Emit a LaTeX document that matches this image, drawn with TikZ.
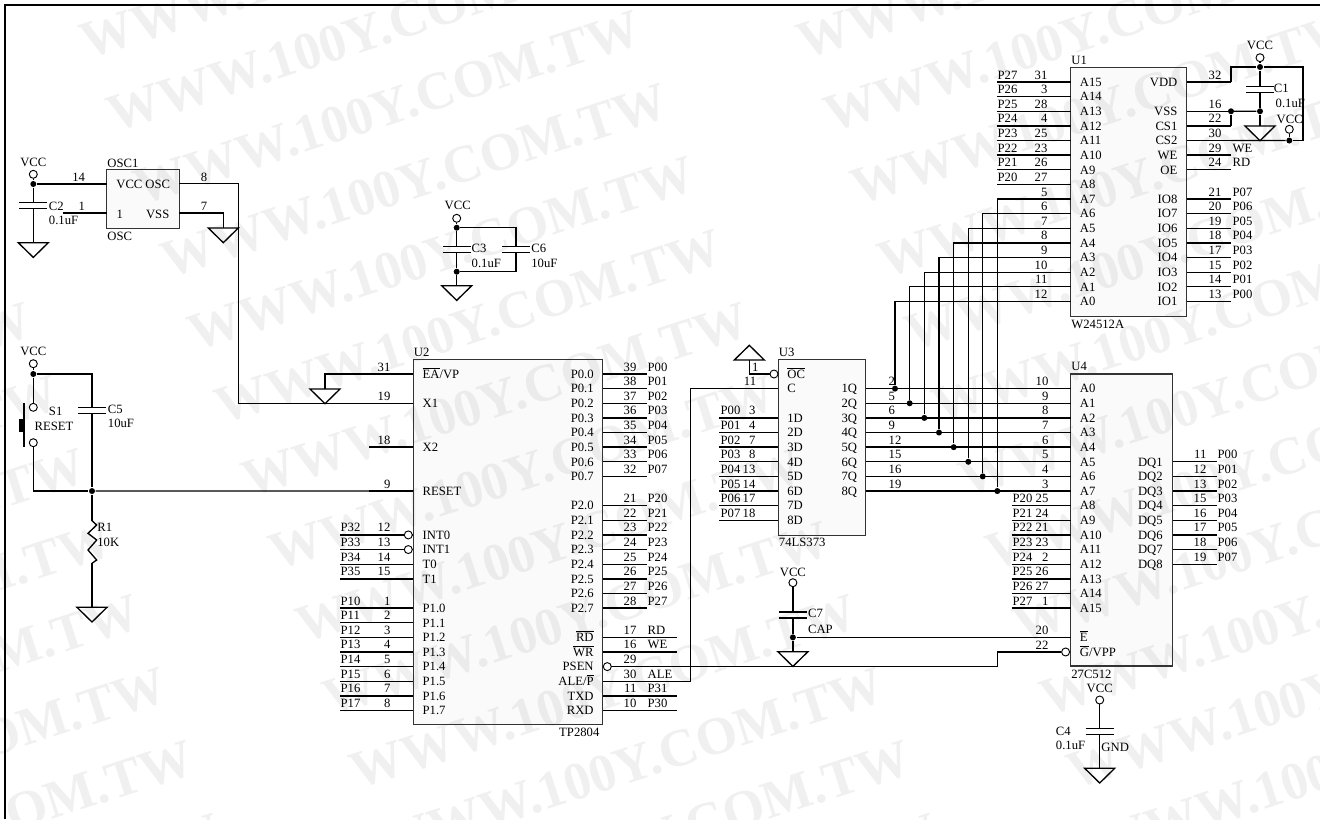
\documentclass[tikz,border=0pt]{standalone}
\usepackage{fontspec}
\setmainfont{Liberation Serif}
\newcommand{\ovl}[1]{$\overline{\mbox{#1}}$}
\begin{document}
\begin{tikzpicture}[
                x=0.75pt, y=-0.75pt,
                line width=1pt,
                every node/.style={inner sep=0pt, font=\fontsize{9.5}{10}\selectfont},
                tl/.style={anchor=base west},
                tr/.style={anchor=base east},
                tc/.style={anchor=base},
                wmark/.style={anchor=base west, rotate=18, text=black!6, font=\fontsize{40}{40}\selectfont\bfseries},
                chipbox/.style={draw=black!80, line width=0.8pt, fill=black, fill opacity=0.02, text opacity=1},
                bubble/.style={circle, draw, fill=white, line width=0.7pt, minimum size=6pt},
                dotj/.style={circle, fill=black, minimum size=4.5pt},
                gnd/.pic={\draw (-15,0) -- (15,0) -- (0,14.7) -- cycle; \coordinate (-top) at (0,0);},
                capv/.pic={\draw (-14,-3) -- (14,-3) (-14,3) -- (14,3); \coordinate (-a) at (0,-3); \coordinate (-b) at (0,3);},
                resv/.pic={\draw (0,0) -- (4.7,4.3) -- (-4,12.6) -- (4.7,19.3) -- (-4,29.3) -- (4.7,39.3) -- (0,42.6);
                    \coordinate (-a) at (0,0); \coordinate (-b) at (0,42.6);},
            ]
            \useasboundingbox (0,0) rectangle (1320,819);
            % watermark
            \begin{scope}
            \clip (0,0) rectangle (1320,819);
            \foreach \r in {0,...,13}
                \foreach \c in {-2,...,1}
                    \node[wmark] (wm\r\c) at (87+27*\r+717*\c,60+73*\r) {WWW.100Y.COM.TW};
            \end{scope}
            \draw[line width=1.5pt] (5,819) -- (5,5) -- (1320,5);

            % chips
            \node[chipbox, minimum width=87.2pt, minimum height=186.5pt] (U1) at (1128.8,191.7) {};
            \node[chipbox, minimum width=142pt, minimum height=273.5pt] (U2) at (508,541.7) {};
            \node[chipbox, minimum width=65.5pt, minimum height=131.8pt] (U3) at (822,447.2) {};
            \node[chipbox, minimum width=76.5pt, minimum height=219pt] (U4) at (1121.7,520) {};
            \node[chipbox, minimum width=54.5pt, minimum height=44pt] (OSC) at (143,198.7) {};
            \node[tl] (U1t) at (1070.7,64) {U1};
            \node[tl] (U1b) at (1070.7,328) {W24512A};
            \node[tl] (U2t) at (413.3,356) {U2};
            \node[tr] (U2b) at (600,736) {TP2804};
            \node[tl] (U3t) at (778.3,356) {U3};
            \node[tl] (U3b) at (778.3,546) {74LS373};
            \node[tl] (U4t) at (1070.7,370) {U4};
            \node[tl] (U4b) at (1070.7,678) {27C512};
            \node[tl] (OSCt) at (106.7,167) {OSC1};
            \node[tl] (OSCb) at (106.7,240) {OSC};

            % U2 left pins
            \foreach \k/\sig/\num/\lab/\ex in {0//31/{\ovl{EA}/VP}/369, 2//19/X1/369, 5//18/X2/369, 8//9/RESET/369,
                    11/P32/12/INT0/340, 12/P33/13/INT1/340, 13/P34/14/T0/340, 14/P35/15/T1/340,
                    16/P10/1/P1.0/340, 17/P11/2/P1.1/340, 18/P12/3/P1.2/340, 19/P13/4/P1.3/340,
                    20/P14/5/P1.4/340, 21/P15/6/P1.5/340, 22/P16/7/P1.6/340, 23/P17/8/P1.7/340} {
                \pgfmathsetmacro{\py}{374+14.63*\k}
                \coordinate (U2-\num) at (413.3,\py);
                \coordinate (U2-\num-x) at (\ex,\py);
                \draw (U2-\num-x) -- (U2-\num);
                \node[tr] (U2-\num-n) at (391,\py-3) {\num};
                \node[tl] (U2-\num-s) at (340,\py-3) {\sig};
                \node[tl] (U2-\num-l) at (422,\py+4.3) {\lab};
            }
            % U2 right pins
            \foreach \k/\sig/\num/\lab/\ex in {0/P00/39/P0.0/647, 1/P01/38/P0.1/647, 2/P02/37/P0.2/647, 3/P03/36/P0.3/647,
                    4/P04/35/P0.4/647, 5/P05/34/P0.5/647, 6/P06/33/P0.6/647, 7/P07/32/P0.7/647,
                    9/P20/21/P2.0/647, 10/P21/22/P2.1/647, 11/P22/23/P2.2/647, 12/P23/24/P2.3/647,
                    13/P24/25/P2.4/647, 14/P25/26/P2.5/647, 15/P26/27/P2.6/647, 16/P27/28/P2.7/647,
                    18/RD/17/\ovl{RD}/676.7, 19/WE/16/\ovl{WR}/676.7, 20//29/PSEN/676.7,
                    21/ALE/30/{ALE/\ovl{P}}/676.7, 22/P31/11/TXD/676.7, 23/P30/10/RXD/676.7} {
                \pgfmathsetmacro{\py}{374+14.63*\k}
                \coordinate (U2-\num) at (602.7,\py);
                \coordinate (U2-\num-x) at (\ex,\py);
                \draw (U2-\num) -- (U2-\num-x);
                \node[tr] (U2-\num-n) at (637,\py-3) {\num};
                \node[tl] (U2-\num-s) at (647,\py-3) {\sig};
                \node[tr] (U2-\num-l) at (594.3,\py+4.3) {\lab};
            }
            \node[bubble] (bINT0) at (408.3,534.93) {};
            \node[bubble] (bINT1) at (408.3,549.56) {};
            \node[bubble] (bPSEN) at (607.3,666.6) {};

            % U3 left pins
            \foreach \k/\sig/\num/\lab in {3/P00/3/1D, 4/P01/4/2D, 5/P02/7/3D, 6/P03/8/4D,
                    7/P04/13/5D, 8/P05/14/6D, 9/P06/17/7D, 10/P07/18/8D} {
                \pgfmathsetmacro{\py}{374+14.63*\k}
                \coordinate (U3-\num) at (778.3,\py);
                \coordinate (U3-\num-x) at (719.3,\py);
                \draw (U3-\num-x) -- (U3-\num);
                \node[tr] (U3-\num-n) at (756,\py-3) {\num};
                \node[tl] (U3-\num-s) at (720,\py-3) {\sig};
                \node[tl] (U3-\num-l) at (786.7,\py+4.3) {\lab};
            }
            % U3 outputs, to U4 and through the bus to U1
            \foreach \k/\num/\bx/\an/\bn in {1/2/895/10/12, 2/5/909.7/9/11, 3/6/924.3/8/10, 4/9/939/7/9,
                    5/12/953.7/6/8, 6/15/968.3/5/7, 7/16/982.7/4/6, 8/19/997.3/3/5} {
                \pgfmathsetmacro{\py}{374+14.63*\k}
                \pgfmathsetmacro{\qy}{82+14.63*(16-\k)}
                \pgfmathtruncatemacro{\ai}{\k-1}
                \coordinate (U3-\num) at (865.7,\py);
                \coordinate (U4-\an) at (1070.7,\py);
                \coordinate (U1-\bn) at (1070.7,\qy);
                \coordinate (bus\k) at (\bx,\qy);
                \node[dotj] (q\k) at (\bx,\py) {};
                \draw (U3-\num) -- (U4-\an);
                \draw (q\k) -- (bus\k) -- (U1-\bn);
                \node[tr] (U3-\k Q) at (857.7,\py+4.3) {\k Q};
                \node[tl] (U3-\num-n) at (888,\py-3) {\num};
                \node[tr] (U4-\an-n) at (1049,\py-3) {\an};
                \node[tl] (U4-\an-l) at (1079.3,\py+4.3) {A\ai};
                \node[tr] (U1-\bn-n) at (1048,\qy-3) {\bn};
                \node[tl] (U1-\bn-l) at (1079.3,\qy+4.3) {A\ai};
            }
            % U4 upper address
            \foreach \k/\sig/\num/\lab in {9/P20/25/A8, 10/P21/24/A9, 11/P22/21/A10, 12/P23/23/A11,
                    13/P24/2/A12, 14/P25/26/A13, 15/P26/27/A14, 16/P27/1/A15} {
                \pgfmathsetmacro{\py}{374+14.63*\k}
                \coordinate (U4-\num) at (1070.7,\py);
                \coordinate (U4-\num-x) at (1011.7,\py);
                \draw (U4-\num-x) -- (U4-\num);
                \node[tr] (U4-\num-n) at (1049,\py-3) {\num};
                \node[tl] (U4-\num-s) at (1012,\py-3) {\sig};
                \node[tl] (U4-\num-l) at (1079.3,\py+4.3) {\lab};
            }
            % U4 data
            \foreach \k/\sig/\num/\lab in {6/P00/11/DQ1, 7/P01/12/DQ2, 8/P02/13/DQ3, 9/P03/15/DQ4,
                    10/P04/16/DQ5, 11/P05/17/DQ6, 12/P06/18/DQ7, 13/P07/19/DQ8} {
                \pgfmathsetmacro{\py}{374+14.63*\k}
                \coordinate (U4-\num) at (1172.7,\py);
                \coordinate (U4-\num-x) at (1217,\py);
                \draw (U4-\num) -- (U4-\num-x);
                \node[tr] (U4-\num-n) at (1207,\py-3) {\num};
                \node[tl] (U4-\num-s) at (1217,\py-3) {\sig};
                \node[tr] (U4-\num-l) at (1163.3,\py+4.3) {\lab};
            }
            % U1 upper address
            \foreach \k/\sig/\num/\lab in {0/P27/31/A15, 1/P26/3/A14, 2/P25/28/A13, 3/P24/4/A12,
                    4/P23/25/A11, 5/P22/23/A10, 6/P21/26/A9, 7/P20/27/A8} {
                \pgfmathsetmacro{\py}{82+14.63*\k}
                \coordinate (U1-\num) at (1070.7,\py);
                \coordinate (U1-\num-x) at (997,\py);
                \draw (U1-\num-x) -- (U1-\num);
                \node[tr] (U1-\num-n) at (1048,\py-3) {\num};
                \node[tl] (U1-\num-s) at (997,\py-3) {\sig};
                \node[tl] (U1-\num-l) at (1079.3,\py+4.3) {\lab};
            }
            % U1 right pins
            \foreach \k/\sig/\num/\lab in {0//32/VDD, 2//16/VSS, 3//22/CS1, 4//30/CS2, 5/WE/29/WE, 6/RD/24/OE,
                    8/P07/21/IO8, 9/P06/20/IO7, 10/P05/19/IO6, 11/P04/18/IO5,
                    12/P03/17/IO4, 13/P02/15/IO3, 14/P01/14/IO2, 15/P00/13/IO1} {
                \pgfmathsetmacro{\py}{82+14.63*\k}
                \coordinate (U1-\num) at (1187,\py);
                \coordinate (U1-\num-x) at (1231,\py);
                \draw (U1-\num) -- (U1-\num-x);
                \node[tr] (U1-\num-n) at (1222,\py-3) {\num};
                \node[tl] (U1-\num-s) at (1232,\py-3) {\sig};
                \node[tr] (U1-\num-l) at (1178,\py+4.3) {\lab};
            }

            % U1 supply
            \node[bubble] (vcc5) at (1260,57.7) {};
            \node[tc] (vcc5t) at (1260,49.3) {VCC};
            \node[dotj] (d7) at (1260,67) {};
            \pic (c1) at (1260,89.2) {capv};
            \node[tl] (c1t) at (1273.3,92.3) {C1};
            \node[tl] (c1v) at (1275,107) {0.1uF};
            \node[dotj] (d9) at (1260,111.26) {};
            \node[dotj] (d10) at (1231,111.26) {};
            \pic (g7) at (1260,126) {gnd};
            \node[bubble] (vcc6) at (1289.3,129.3) {};
            \node[tc] (vcc6t) at (1289.7,123) {VCC};
            \node[dotj] (d8) at (1289.3,140.52) {};
            \coordinate (n7) at (1303,140.52);
            \draw (U1-32-x) |- (d7);
            \draw (d7) -| (n7) -- (d8);
            \draw (U1-30-x) -- (d8);
            \draw (vcc6) -- (d8);
            \draw (vcc5) -- (d7) -- (c1-a);
            \draw (c1-b) -- (d9) -- (g7-top);
            \draw (U1-16-x) -- (d9);
            \draw (U1-22-x) -- (d10);

            % oscillator
            \coordinate (osc-14) at (106.7,184);
            \coordinate (osc-1) at (106.7,213);
            \coordinate (osc-1-x) at (62.7,213);
            \coordinate (osc-8) at (179.3,183.3);
            \coordinate (osc-7) at (179.3,213);
            \coordinate (n1) at (238.3,183.3);
            \node[tl] (oscVCC) at (115.7,188) {VCC};
            \node[tr] (oscOSC) at (170.7,188) {OSC};
            \node[tl] (osc1l) at (116,218) {1};
            \node[tr] (oscVSS) at (170,218) {VSS};
            \node[tc] (osc14n) at (78.7,181.5) {14};
            \node[tc] (osc1n) at (81.7,210.5) {1};
            \node[tc] (osc8n) at (204,181) {8};
            \node[tc] (osc7n) at (204,210.5) {7};
            \node[bubble] (vcc1) at (33.3,174.3) {};
            \node[tc] (vcc1t) at (33.3,166.3) {VCC};
            \node[dotj] (d1) at (33.3,184) {};
            \pic (c2) at (33.3,205.7) {capv};
            \node[tl] (c2t) at (48.3,210) {C2};
            \node[tl] (c2v) at (48.3,224.3) {0.1uF};
            \pic (g1) at (33.3,242.7) {gnd};
            \pic (g2) at (223.3,228) {gnd};
            \draw (vcc1) -- (d1) -- (c2-a);
            \draw (c2-b) -- (g1-top);
            \draw (d1) -- (osc-14);
            \draw (osc-1-x) -- (osc-1);
            \draw (osc-8) -- (n1) |- (U2-19);
            \draw (osc-7) -| (g2-top);

            % reset
            \node[bubble] (vcc2) at (33.3,363.7) {};
            \node[tc] (vcc2t) at (33.3,355) {VCC};
            \node[dotj] (d3) at (33.3,374) {};
            \pic (c5) at (92,410.5) {capv};
            \node[tl] (c5t) at (107.3,413) {C5};
            \node[tl] (c5v) at (107.3,427.6) {10uF};
            \node[bubble] (sw1) at (33.3,407.3) {};
            \node[bubble] (sw2) at (33.3,442.7) {};
            \node[tl] (s1t) at (48.3,415) {S1};
            \node[tl] (s1v) at (34,430) {RESET};
            \node[dotj] (d4) at (92,491.04) {};
            \pic (r1) at (92,520.7) {resv};
            \node[tl] (r1t) at (96.7,531.6) {R1};
            \node[tl] (r1v) at (96.7,546) {10K};
            \pic (g3) at (92,607.3) {gnd};
            \draw[line width=1.5pt] (24,402.7) -- (24,447.3);
            \fill (18.7,419) rectangle (24,431.7);
            \draw (vcc2) -- (d3) -- (sw1);
            \draw (d3) -| (c5-a);
            \draw (c5-b) -- (d4) -- (r1-a);
            \draw (sw2) |- (d4);
            \draw (d4) -- (U2-9);
            \draw (r1-b) -- (g3-top);

            % C3 and C6
            \node[bubble] (vcc3) at (456.7,218.3) {};
            \node[tc] (vcc3t) at (457.7,209.3) {VCC};
            \node[dotj] (d5) at (456.7,227.7) {};
            \node[dotj] (d6) at (456.7,271.7) {};
            \pic (c3) at (456.7,249.8) {capv};
            \pic (c6) at (516,249.8) {capv};
            \node[tl] (c3t) at (471,252.6) {C3};
            \node[tl] (c3v) at (471,267) {0.1uF};
            \node[tl] (c6t) at (530.7,252.6) {C6};
            \node[tl] (c6v) at (530.7,267) {10uF};
            \pic (g4) at (456.7,285.7) {gnd};
            \draw (vcc3) -- (d5) -- (c3-a);
            \draw (c3-b) -- (d6) -- (g4-top);
            \draw (d5) -| (c6-a);
            \draw (c6-b) |- (d6);

            % EA/VP to ground, ALE to U3
            \pic (g5) at (325,389) {gnd};
            \draw (U2-31-x) -| (g5-top);
            \coordinate (U3-11) at (778.3,388.63);
            \coordinate (n2) at (690.7,388.63);
            \node[tc] (U3-11-n) at (750,385.6) {11};
            \node[tl] (U3-Cl) at (786.7,392.9) {C};
            \draw (U2-30-x) -| (n2) -- (U3-11);
            % OC
            \node[bubble] (bOC) at (774,374) {};
            \coordinate (n5) at (749.3,374);
            \pic[yscale=-1] (g6) at (749.3,360) {gnd};
            \node[tl] (U3-1-n) at (751.5,371) {1};
            \node[tl] (U3-OC) at (786.7,378.3) {\ovl{OC}};
            \draw (bOC) -- (n5) -- (g6-top);

            % E and G of U4
            \coordinate (U4-20) at (1070.7,637.34);
            \node[tr] (U4-20-n) at (1049,634.3) {20};
            \node[tl] (U4-20-l) at (1079.3,641.6) {\ovl{E}};
            \node[bubble] (vcc8) at (792.9,582.7) {};
            \node[tc] (vcc8t) at (792.9,576) {VCC};
            \pic (c7) at (792.9,615) {capv};
            \node[tl] (c7t) at (807.4,617.6) {C7};
            \node[tl] (c7v) at (807.4,633) {CAP};
            \node[dotj] (d11) at (792.9,637.34) {};
            \pic (g9) at (792.9,651.7) {gnd};
            \draw (vcc8) -- (c7-a);
            \draw (c7-b) -- (d11) -- (g9-top);
            \draw (d11) -- (U4-20);
            \node[bubble] (bG) at (1065.6,651.97) {};
            \coordinate (n3) at (997.5,666.6);
            \coordinate (n4) at (997.5,651.97);
            \node[tr] (U4-22-n) at (1049,649) {22};
            \node[tl] (U4-22-l) at (1079.3,656.3) {\ovl{G}/VPP};
            \draw (bPSEN) -- (n3) -- (n4) -- (bG);

            % C4
            \node[bubble] (vcc7) at (1099.7,700) {};
            \node[tc] (vcc7t) at (1099.7,692) {VCC};
            \pic (c4) at (1099.7,731.7) {capv};
            \node[tl] (c4t) at (1055.3,735.3) {C4};
            \node[tl] (c4v) at (1055.3,749.3) {0.1uF};
            \node[tl] (c4g) at (1100.8,751) {GND};
            \pic (g8) at (1099.7,768.3) {gnd};
            \draw (vcc7) -- (c4-a);
            \draw (c4-b) -- (g8-top);
            \end{tikzpicture}
\end{document}
